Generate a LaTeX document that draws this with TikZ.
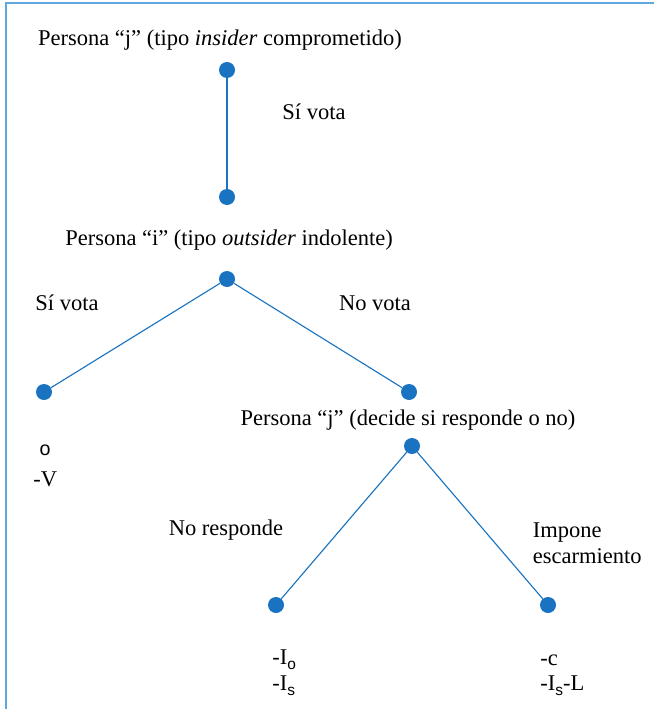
\documentclass[tikz,border=0pt]{standalone}
\usepackage{fontspec}
\setmainfont{Liberation Serif}
\newfontfamily\subfont{Liberation Sans}
\definecolor{frameblue}{HTML}{5DA8DC}
\definecolor{treeblue}{HTML}{1A73C0}
\newcommand{\psub}[1]{\lower3.5pt\hbox{\subfont\fontsize{11}{11}\selectfont #1}}

\begin{document}
\begin{tikzpicture}[x=0.025cm,y=-0.025cm,
    every node/.style={font=\fontsize{16}{18.5}\selectfont},
    dot/.style={circle,fill=treeblue,inner sep=0pt,minimum size=0.4cm},
    branch/.style={treeblue,line width=0.8pt},
    pay/.style={anchor=west,inner sep=0pt}]
\useasboundingbox (0,0) rectangle (654,709);
\draw[frameblue,line width=1.6pt] (6,709)--(6,3)--(654,3);
% jugadores
\node (tj) at (220,40) {Persona “j” (tipo \textit{insider} comprometido)};
\node (ti) at (229,240) {Persona “i” (tipo \textit{outsider} indolente)};
\node (tr) at (408,420) {Persona “j” (decide si responde o no)};
% nodos del arbol
\node[dot] (a) at (227,70){};
\node[dot] (b) at (227,197){};
\node[dot] (c) at (227,279){};
\node[dot] (d) at (44,392){};
\node[dot] (e) at (409,392){};
\node[dot] (f) at (412,446){};
\node[dot] (g) at (276,605){};
\node[dot] (h) at (548,605){};
\draw[branch] (a)--(b);
\draw[branch] (c)--(d);
\draw[branch] (c)--(e);
\draw[branch] (f)--(g);
\draw[branch] (f)--(h);
% acciones
\node (sv1) at (314,112) {Sí vota};
\node (sv2) at (67,303) {Sí vota};
\node (nv) at (375,303) {No vota};
\node (nr) at (226,530) {No responde};
\node[anchor=west,align=left] (ie) at (528,543) {Impone\\escarmiento};
% pagos
\node (p0) at (45,450) {\subfont\fontsize{14}{14}\selectfont o};
\node[pay] (pv) at (33,479) {-V};
\node[pay] (pio) at (272,660) {-I\psub{o}};
\node[pay] (pis) at (272,686) {-I\psub{s}};
\node[pay] (pc) at (540,660) {-c};
\node[pay] (pisl) at (540,686) {-I\psub{s}-L};
\end{tikzpicture}
\end{document}
